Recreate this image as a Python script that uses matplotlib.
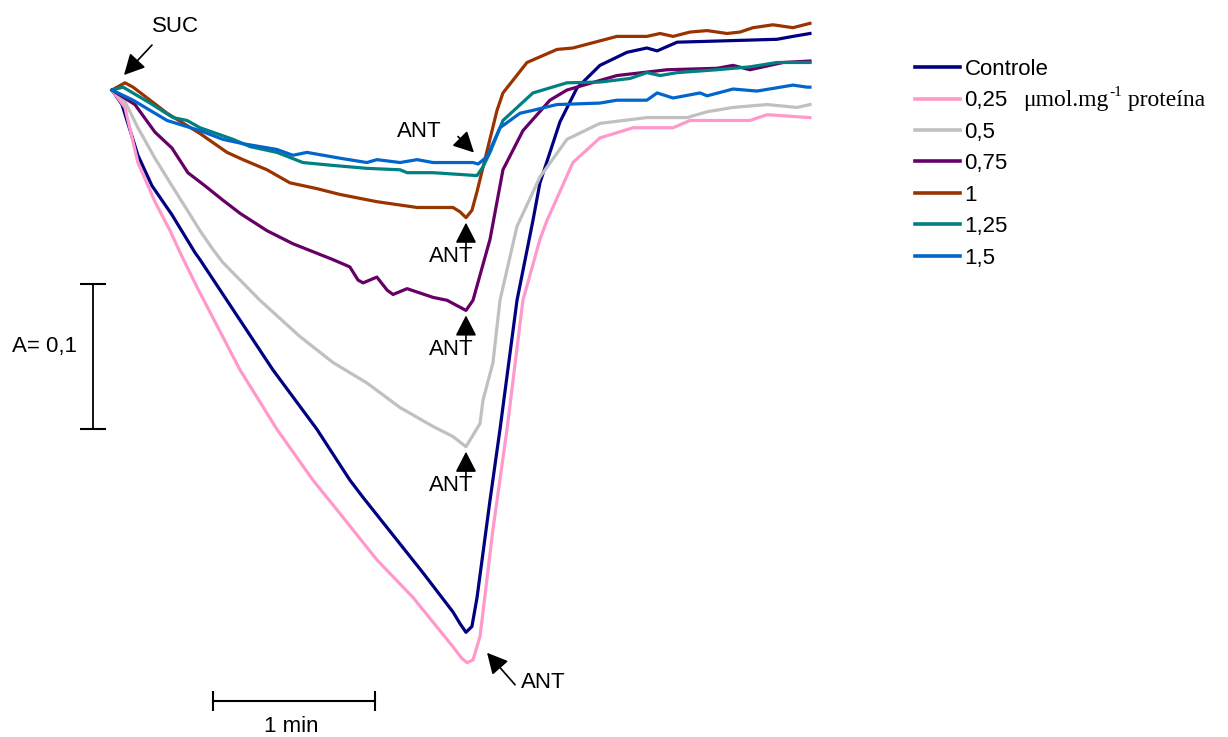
import numpy as np
import matplotlib
matplotlib.use("Agg")
import matplotlib.pyplot as plt

plt.rcParams['font.family'] = ['Liberation Sans', 'DejaVu Sans']

# time in seconds, absorbance change relative to the start (SUC addition at t=0)
t_ctrl = [0, 3.7, 9.6, 14.8, 22.2, 30.7, 32.6, 59.6, 75.9, 88.1, 93.0, 115.2, 126.3, 128.9,
          131.1, 133.3, 135.2, 140.0, 143.7, 150.0, 155.9, 158.5, 165.9, 172.2, 180.7, 190.7,
          198.1, 201.9, 209.3, 227.8, 246.3, 252.2, 258.5]
a_ctrl = [0, -0.010, -0.045, -0.066, -0.086, -0.112, -0.117, -0.193, -0.234, -0.269, -0.281,
          -0.333, -0.360, -0.368, -0.374, -0.370, -0.350, -0.283, -0.234, -0.145, -0.090, -0.064,
          -0.022, 0.0014, 0.017, 0.026, 0.029, 0.027, 0.033, 0.034, 0.035, 0.037, 0.039]

t_025 = [0, 4.8, 9.6, 15.9, 21.5, 25.2, 31.5, 47.4, 61.1, 74.4, 84.4, 98.1, 111.5, 126.3, 129.6,
         131.5, 133.7, 136.3, 141.1, 146.3, 152.2, 158.5, 161.1, 170.7, 180.7, 193.0, 207.8,
         214.1, 236.3, 242.6, 258.5]
a_025 = [0, -0.012, -0.050, -0.077, -0.097, -0.112, -0.136, -0.193, -0.234, -0.269, -0.292,
         -0.324, -0.350, -0.384, -0.392, -0.395, -0.393, -0.377, -0.303, -0.234, -0.145, -0.103,
         -0.090, -0.050, -0.033, -0.026, -0.026, -0.021, -0.021, -0.017, -0.019]

t_05 = [0, 4.8, 9.6, 15.9, 22.2, 29.6, 32.6, 37.4, 41.1, 54.8, 69.6, 81.9, 94.4, 106.7, 118.9,
        126.3, 131.1, 136.3, 137.4, 141.1, 143.7, 150.0, 158.5, 168.5, 180.7, 198.1, 213.0, 220.4,
        230.0, 242.6, 253.7, 258.5]
a_05 = [0, -0.008, -0.026, -0.047, -0.066, -0.088, -0.097, -0.110, -0.119, -0.145, -0.170,
        -0.188, -0.202, -0.219, -0.232, -0.239, -0.246, -0.230, -0.214, -0.188, -0.145, -0.094,
        -0.060, -0.034, -0.023, -0.019, -0.019, -0.015, -0.012, -0.010, -0.012, -0.010]

t_075 = [0, 8.5, 15.9, 22.2, 28.1, 34.4, 41.1, 47.4, 57.4, 67.0, 81.9, 88.1, 91.1, 93.0, 98.1,
         101.9, 104.1, 109.3, 114.1, 118.9, 124.1, 131.1, 133.7, 140.0, 144.8, 152.2, 162.2,
         168.5, 187.0, 205.6, 224.1, 230.0, 236.3, 248.5, 258.5]
a_075 = [0, -0.010, -0.029, -0.040, -0.057, -0.066, -0.076, -0.085, -0.097, -0.106, -0.117,
         -0.122, -0.131, -0.133, -0.129, -0.138, -0.141, -0.137, -0.140, -0.143, -0.145, -0.152,
         -0.145, -0.103, -0.055, -0.028, -0.007, 0, 0.010, 0.014, 0.015, 0.017, 0.014, 0.019, 0.020]

t_1 = [0, 4.8, 7.8, 20.4, 32.6, 42.6, 48.5, 57.4, 65.9, 75.9, 84.4, 98.1, 113.0, 126.3, 128.9,
       131.1, 133.3, 135.2, 142.6, 144.8, 153.7, 164.8, 170.7, 187.0, 198.1, 203.0, 207.8, 214.1,
       220.4, 227.8, 232.6, 237.4, 244.8, 252.2, 258.5]
a_1 = [0, 0.005, 0.002, -0.016, -0.030, -0.043, -0.048, -0.055, -0.064, -0.068, -0.072, -0.077,
       -0.081, -0.081, -0.084, -0.088, -0.083, -0.070, -0.014, -0.002, 0.019, 0.028, 0.029,
       0.037, 0.037, 0.039, 0.037, 0.040, 0.041, 0.039, 0.040, 0.043, 0.045, 0.043, 0.046]

t_125 = [0, 4.1, 14.1, 22.6, 27.8, 32.6, 44.8, 51.1, 61.1, 70.7, 81.9, 94.4, 106.7, 109.3, 118.9,
         135.2, 137.4, 140.0, 144.8, 155.9, 168.5, 180.7, 191.9, 198.1, 203.0, 209.3, 224.1,
         236.3, 246.3, 254.8, 258.5]
a_125 = [0, 0.002, -0.009, -0.019, -0.021, -0.026, -0.034, -0.039, -0.043, -0.050, -0.052,
         -0.054, -0.055, -0.057, -0.057, -0.059, -0.053, -0.043, -0.021, -0.002, 0.005, 0.0055,
         0.008, 0.012, 0.010, 0.012, 0.014, 0.016, 0.019, 0.019, 0.019]

t_15 = [0, 7.8, 20.4, 32.6, 41.1, 48.5, 61.1, 67.0, 72.2, 84.4, 94.4, 98.1, 106.7, 113.0, 118.9,
        133.7, 135.6, 138.9, 143.7, 151.1, 155.9, 164.8, 180.7, 187.0, 198.1, 201.9, 207.8,
        217.8, 220.4, 230.0, 238.9, 252.2, 257.4, 258.5]
a_15 = [0, -0.007, -0.021, -0.028, -0.034, -0.037, -0.041, -0.045, -0.043, -0.047, -0.050,
        -0.048, -0.050, -0.048, -0.050, -0.050, -0.051, -0.046, -0.026, -0.016, -0.014, -0.010,
        -0.009, -0.007, -0.007, -0.002, -0.0055, -0.002, -0.004, 0.0007, -0.0007, 0.0034, 0.002,
        0.002]

labels = ['Controle', '0,25', '0,5', '0,75', '1', '1,25', '1,5']
colors = ['#000080', '#FF99CC', '#C0C0C0', '#660066', '#993300', '#008080', '#0066CC']
series = [(t_ctrl, a_ctrl), (t_025, a_025), (t_05, a_05), (t_075, a_075),
          (t_1, a_1), (t_125, a_125), (t_15, a_15)]

scale_time = 60    # s  -> "1 min"
scale_abs = 0.1    # absorbance

W, H = 1228, 737
fig = plt.figure(figsize=(W / 100, H / 100), dpi=100)
ax = fig.add_axes([0, 0, 1, 1])
ax.set_xlim(-41.48, 413.33)
ax.set_ylim(-0.4462, 0.0621)
ax.axis('off')

# one pixel expressed in data units
PX_T = (413.33 + 41.48) / W
PX_A = (0.0621 + 0.4462) / H

lines = []
for (t, a), lab, col in zip(series, labels, colors):
    ln, = ax.plot(t, a, color=col, lw=2.3, label=lab, solid_joinstyle='round')
    lines.append(ln)

FS = 16
leg = ax.legend(handles=lines, loc='upper left', bbox_to_anchor=(906 / W, 1 - 50 / H),
                frameon=False, fontsize=FS, handlelength=2.03, handletextpad=0.2,
                labelspacing=0.47, borderaxespad=0)
for l in leg.get_lines():
    l.set_linewidth(2.6)
fig.canvas.draw()

# unit text after the 0,25 entry (hyphen superscript like the original)
bb = leg.get_texts()[1].get_window_extent()
ymid = (bb.y0 + bb.y1) / 2
x = bb.x1 + 15
r = fig.canvas.get_renderer()
t1 = fig.text(x / W, ymid / H, 'μmol.mg', family='Liberation Serif', fontsize=17,
              va='center', ha='left')
x = t1.get_window_extent(r).x1 + 1
t2 = fig.text(x / W, (ymid + 8) / H, '-1', family='Liberation Serif', fontsize=11,
              va='center', ha='left')
x = t2.get_window_extent(r).x1
fig.text(x / W, ymid / H, ' proteína', family='Liberation Serif', fontsize=17,
         va='center', ha='left')

arrow = dict(arrowstyle='-|>,head_length=0.7,head_width=0.36', color='black', lw=1.2,
             shrinkA=0, shrinkB=0, mutation_scale=18)

# SUC
t0, a0 = t_ctrl[0], a_ctrl[0]
ax.annotate('', xy=(t0 + 12 * PX_T, a0 + 15 * PX_A), xytext=(28, 30),
            textcoords='offset pixels', arrowprops=arrow)
ax.annotate('SUC', xy=(t0, a0), xytext=(63, 64), textcoords='offset pixels',
            ha='center', va='center', fontsize=FS)

# ANT arrows below the minima of the 0,5 / 0,75 / 1 traces
for t, a in [(t_1, a_1), (t_075, a_075), (t_05, a_05)]:
    i = int(np.argmin(a))
    tip = (t[i], a[i] - 5 * PX_A)
    ax.annotate('', xy=tip, xytext=(0, -25), textcoords='offset pixels', arrowprops=arrow)
    ax.annotate('ANT', xy=(t[i], a[i]), xytext=(-15, -39), textcoords='offset pixels',
                ha='center', va='center', fontsize=FS)

# ANT for the 0,25 trace
i = int(np.argmin(a_025))
tip = (t_025[i] + 20 * PX_T, a_025[i] + 10 * PX_A)
ax.annotate('', xy=tip, xytext=(28, -32), textcoords='offset pixels', arrowprops=arrow)
ax.annotate('ANT', xy=tip, xytext=(56, -30), textcoords='offset pixels',
            ha='center', va='center', fontsize=FS)

# ANT above the 1,25 / 1,5 traces
j = t_15.index(133.7)
tip = (t_15[j] + 1 * PX_T, a_15[j] + 10 * PX_A)
ax.annotate('', xy=tip, xytext=(-16, 16), textcoords='offset pixels', arrowprops=arrow)
ax.annotate('ANT', xy=tip, xytext=(-55, 21), textcoords='offset pixels',
            ha='center', va='center', fontsize=FS)

# scale bars
hx0, hy = 37.4, -0.4214
ax.plot([hx0, hx0 + scale_time], [hy, hy], color='black', lw=1.5,
        marker='|', markersize=15, markeredgewidth=1.5)
ax.text(hx0 + scale_time / 2 - 1, hy - 25 * PX_A, '1 min', ha='center', va='center',
        fontsize=FS)

vx, vy0 = -7.0, -0.1338
ax.plot([vx, vx], [vy0, vy0 - scale_abs], color='black', lw=1.3,
        marker='_', markersize=19, markeredgewidth=1.5)
ax.text(vx - 49 * PX_T, vy0 - scale_abs * 0.43, 'A= 0,1', ha='center', va='center', fontsize=FS)

fig.savefig('out.png', dpi=100)
